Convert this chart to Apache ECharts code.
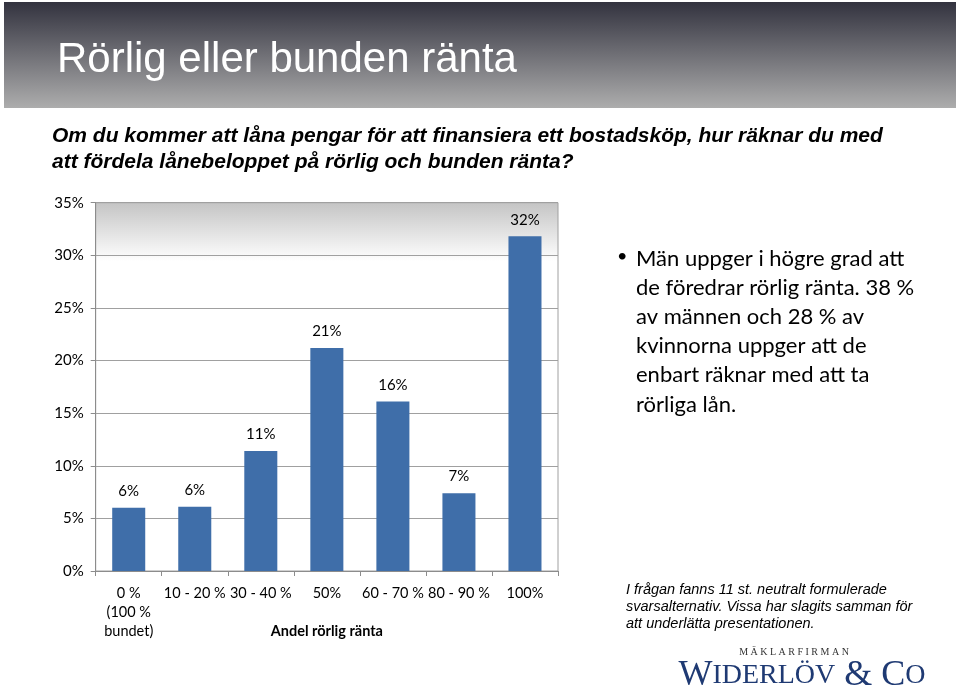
<!DOCTYPE html>
<html>
<head>
<meta charset="utf-8">
<script src="https://cdn.jsdelivr.net/npm/echarts@6/dist/echarts.min.js"></script>
<style>
html,body{margin:0;padding:0;background:#fff;}
#c{width:960px;height:691px;}
</style>
</head>
<body>
<div id="c"></div>
<script>
// Data
const categories = ['0 %\n(100 %\nbundet)', '10 - 20 %', '30 - 40 %', '50%', '60 - 70 %', '80 - 90 %', '100%'];
const shares = [6.0, 6.1, 11.4, 21.2, 16.1, 7.4, 31.8];
const yTicks = [0, 5, 10, 15, 20, 25, 30, 35];

const titleText = 'Rörlig eller bunden ränta';
const questionLines = ['Om du kommer att låna pengar för att finansiera ett bostadsköp, hur räknar du med', 'att fördela lånebeloppet på rörlig och bunden ränta?'];
const bulletLines = ['Män uppger i högre grad att', 'de föredrar rörlig ränta. 38 %', 'av männen och 28 % av', 'kvinnorna uppger att de', 'enbart räknar med att ta', 'rörliga lån.'];
const noteLines = ['I frågan fanns 11 st. neutralt formulerade', 'svarsalternativ. Vissa har slagits samman för', 'att underlätta presentationen.'];
const xName = 'Andel rörlig ränta';
const logoTop = 'M Ä K L A R F I R M A N';

const chart = echarts.init(document.getElementById('c'), null, {renderer: 'canvas'});
const calibri = 'Lato, "Open Sans", sans-serif';

const graphics = [
  {type: 'rect', shape: {x: 4, y: 2, width: 952, height: 106}, z: 0,
   style: {fill: new echarts.graphic.LinearGradient(0, 0, 0, 1, [{offset: 0, color: '#33333f'}, {offset: 1, color: '#adadad'}])}},
  {type: 'text', x: 57, y: 60, z: 2, style: {text: titleText, fill: '#fff', font: '42px "Liberation Sans", Arial, sans-serif', verticalAlign: 'middle'}},
  {type: 'text', x: 52, y: 123, z: 2, style: {text: questionLines.join('\n'), fill: '#000', font: 'italic bold 21px "Liberation Sans", Arial, sans-serif', lineHeight: 26}},
  {type: 'text', x: 617, y: 247, z: 2, style: {text: '•', fill: '#000', font: '18px ' + calibri}},
  {type: 'text', x: 636, y: 244, z: 2, style: {text: bulletLines.join('\n'), fill: '#000', font: '22px ' + calibri, lineHeight: 29.2}},
  {type: 'text', x: 626, y: 581, z: 2, style: {text: noteLines.join('\n'), fill: '#000', font: 'italic 14.5px "Liberation Sans", Arial, sans-serif', lineHeight: 17}},
  {type: 'text', x: 794, y: 652, z: 2, style: {text: logoTop, fill: '#333', font: '10px "Liberation Serif", serif', align: 'center', verticalAlign: 'middle'}},
  {type: 'text', x: 802, y: 676, z: 2, style: {
    text: '{b|W}{s|IDERLÖV}{b| & C}{s|O}', align: 'center', verticalAlign: 'middle',
    rich: {
      b: {fill: '#1f3a73', font: '36px "Liberation Serif", serif'},
      s: {fill: '#1f3a73', font: '28px "Liberation Serif", serif'}
    }
  }}
];

chart.setOption({
  animation: false,
  backgroundColor: '#fff',
  graphic: graphics,
  grid: {
    left: 95.7, right: 402, top: 202.7, bottom: 120, show: true,
    borderColor: '#a0a0a0', borderWidth: 1,
    backgroundColor: new echarts.graphic.LinearGradient(0, 0, 0, 1, [
      {offset: 0, color: '#c4c4c4'}, {offset: 0.16, color: '#ffffff'}, {offset: 1, color: '#ffffff'}
    ])
  },
  xAxis: {
    type: 'category', data: categories,
    name: xName, nameLocation: 'middle', nameGap: 53, nameMoveOverlap: false,
    nameTextStyle: {fontFamily: calibri, fontWeight: 'bold', fontSize: 14.5, color: '#000'},
    axisLine: {lineStyle: {color: '#8c8c8c'}},
    axisTick: {show: true, length: 5, lineStyle: {color: '#8c8c8c'}},
    axisLabel: {interval: 0, fontFamily: calibri, fontSize: 14.5, color: '#000', margin: 13, lineHeight: 19}
  },
  yAxis: {
    type: 'value', min: 0, max: 35, interval: 5,
    axisLine: {show: true, lineStyle: {color: '#8c8c8c'}},
    axisTick: {show: true, length: 5, lineStyle: {color: '#8c8c8c'}},
    splitLine: {lineStyle: {color: '#a0a0a0'}},
    axisLabel: {fontFamily: calibri, fontSize: 15, color: '#000', margin: 12,
      formatter: v => yTicks.includes(v) ? v + '%' : ''}
  },
  series: [{
    type: 'bar', data: shares, barWidth: '50%',
    itemStyle: {color: '#3f6ea9'},
    label: {show: true, position: 'top', distance: 9, fontFamily: calibri, fontSize: 15, color: '#000',
      formatter: p => Math.round(p.value) + '%'}
  }]
});
</script>
</body>
</html>
